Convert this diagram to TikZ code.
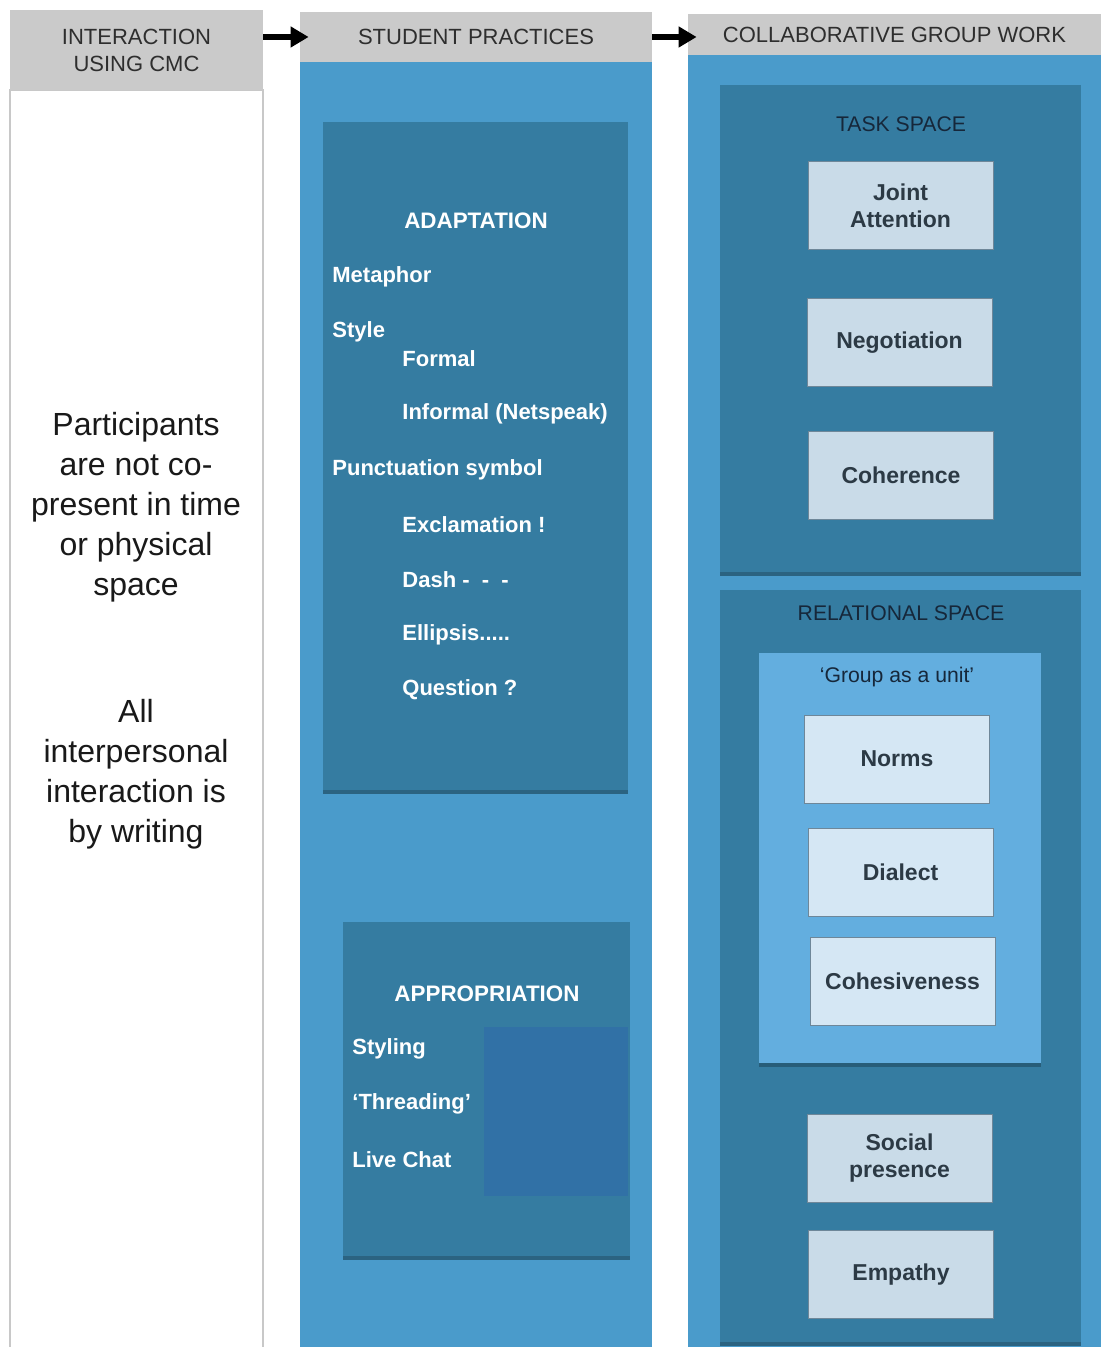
\documentclass[tikz,border=0pt]{standalone}
\usepackage{fontspec}
\setmainfont{Liberation Sans}
\usetikzlibrary{arrows.meta,shadows}
\definecolor{hdrgray}{HTML}{CACACA}
\definecolor{hdrtext}{HTML}{2E2E2E}
\definecolor{colblue}{HTML}{4A9BCB}
\definecolor{darkbox}{HTML}{357CA1}
\definecolor{innerbox}{HTML}{3171A6}
\definecolor{groupbox}{HTML}{63AEDF}
\definecolor{lightbox}{HTML}{C9DBE8}
\definecolor{lightboxb}{HTML}{D5E7F4}
\definecolor{lightborder}{HTML}{6E8799}
\definecolor{boxtext}{HTML}{2C3A45}
\definecolor{navytext}{HTML}{16273A}
\definecolor{edgegray}{HTML}{C8C8C8}
\definecolor{shadowcol}{HTML}{24566F}
\begin{document}
\begin{tikzpicture}[x=0.5pt,y=-0.5pt,
  hdr/.style={fill=hdrgray,text=hdrtext,font=\fontsize{11}{13.5}\selectfont,inner sep=0pt,align=center},
  colbody/.style={fill=colblue,inner sep=0pt},
  myshadow/.style={drop shadow={shadow xshift=0pt,shadow yshift=-2pt,fill=shadowcol,opacity=0.8}},
  panel/.style={fill=darkbox,inner sep=0pt,myshadow},
  grouppanel/.style={fill=groupbox,inner sep=0pt,myshadow},
  lbox/.style={fill=lightbox,draw=lightborder,line width=0.5pt,text=boxtext,font=\bfseries\fontsize{11.5}{13.5}\selectfont,align=center,inner sep=0pt,minimum width=92.5pt,minimum height=44pt},
  lboxb/.style={lbox,fill=lightboxb},
  wtxt/.style={text=white,font=\bfseries\fontsize{11}{13}\selectfont,anchor=west,inner sep=0pt},
  wtitle/.style={text=white,font=\bfseries\fontsize{11.2}{13}\selectfont,inner sep=0pt},
  ntitle/.style={text=navytext,font=\fontsize{10.6}{13}\selectfont,inner sep=0pt},
  lefttxt/.style={text=black!90,font=\fontsize{16}{20}\selectfont,align=center,inner sep=0pt},
  arr/.style={-{Triangle[length=9pt,width=10pt]},line width=3pt,black}
]
\useasboundingbox (0,0) rectangle (1101,1347);
\fill[white] (0,0) rectangle (1101,1347);

% column 1
\node[fill=white,draw=edgegray,line width=0.8pt,inner sep=0pt,minimum width=126.5pt,minimum height=640pt] (c1) at (136.5,730) {};
\node[hdr,minimum width=126.5pt,minimum height=40pt] (h1) at (136.5,50) {INTERACTION\\USING CMC};

% column 2
\node[colbody,minimum width=176pt,minimum height=642.5pt] (c2) at (476,704.5) {};
\node[hdr,minimum width=176pt,minimum height=25pt] (h2) at (476,37) {STUDENT PRACTICES};

% column 3
\node[colbody,minimum width=206.5pt,minimum height=646pt] (c3) at (894.5,701) {};
\node[hdr,minimum width=206.5pt,minimum height=20.5pt] (h3) at (894.5,34.5) {COLLABORATIVE GROUP WORK};

% arrows
\draw[arr] (h1.east |- h2.west) -- ([xshift=4.5pt]h2.west);
\draw[arr] (h2.east) -- ([xshift=4.5pt]h3.west |- h2.east);

% left texts
\node[lefttxt] (t1) at (136,507) {Participants\\are not co-\\present in time\\or physical\\space};
\node[lefttxt] (t2) at (136,774) {All\\interpersonal\\interaction is\\by writing};

% adaptation
\node[panel,minimum width=152.5pt,minimum height=334pt] (adapt) at (475.5,456) {};
\node[wtitle] (adt) at (476,221) {ADAPTATION};
\node[wtxt] (a1) at (332,277) {Metaphor};
\node[wtxt] (a2) at (332,332) {Style};
\node[wtxt] (a3) at (402,359) {Formal};
\node[wtxt] (a4) at (402,414) {Informal (Netspeak)};
\node[wtxt] (a5) at (332,470) {Punctuation symbol};
\node[wtxt] (a6) at (402,525) {Exclamation !};
\node[wtxt] (a7) at (402,580) {Dash -\ \ -\ \ -};
\node[wtxt] (a8) at (402,635) {Ellipsis.....};
\node[wtxt] (a9) at (402,690) {Question ?};

% appropriation
\node[panel,minimum width=143.5pt,minimum height=167pt] (approp) at (486.5,1089) {};
\node[fill=innerbox,inner sep=0pt,minimum width=72pt,minimum height=84.5pt] (apin) at (556,1111.5) {};
\node[wtitle] (apt) at (487,994) {APPROPRIATION};
\node[wtxt] (p1) at (352,1049) {Styling};
\node[wtxt] (p2) at (352,1104) {`Threading'};
\node[wtxt] (p3) at (352,1160) {Live Chat};

% task space
\node[panel,minimum width=180.5pt,minimum height=243.5pt] (task) at (900.5,328.5) {};
\node[ntitle] (tst) at (901,124) {TASK SPACE};
\node[lbox] (ja) at (900.5,206) {Joint\\Attention};
\node[lbox] (neg) at (899.5,342.5) {Negotiation};
\node[lbox] (coh) at (901,475.5) {Coherence};

% relational space
\node[panel,minimum width=180.5pt,minimum height=376pt] (rel) at (900.5,966) {};
\node[ntitle] (rst) at (901,613) {RELATIONAL SPACE};
\node[grouppanel,minimum width=141pt,minimum height=205pt] (grp) at (900,858) {};
\node[ntitle] (gt) at (897,677) {`Group as a unit'};
\node[lboxb] (norms) at (897,759) {Norms};
\node[lboxb] (dia) at (900.5,872) {Dialect};
\node[lboxb] (chs) at (902.5,981) {Cohesiveness};
\node[lbox] (sp) at (899.5,1158.5) {Social\\presence};
\node[lbox] (emp) at (901,1274.5) {Empathy};
\end{tikzpicture}
\end{document}
